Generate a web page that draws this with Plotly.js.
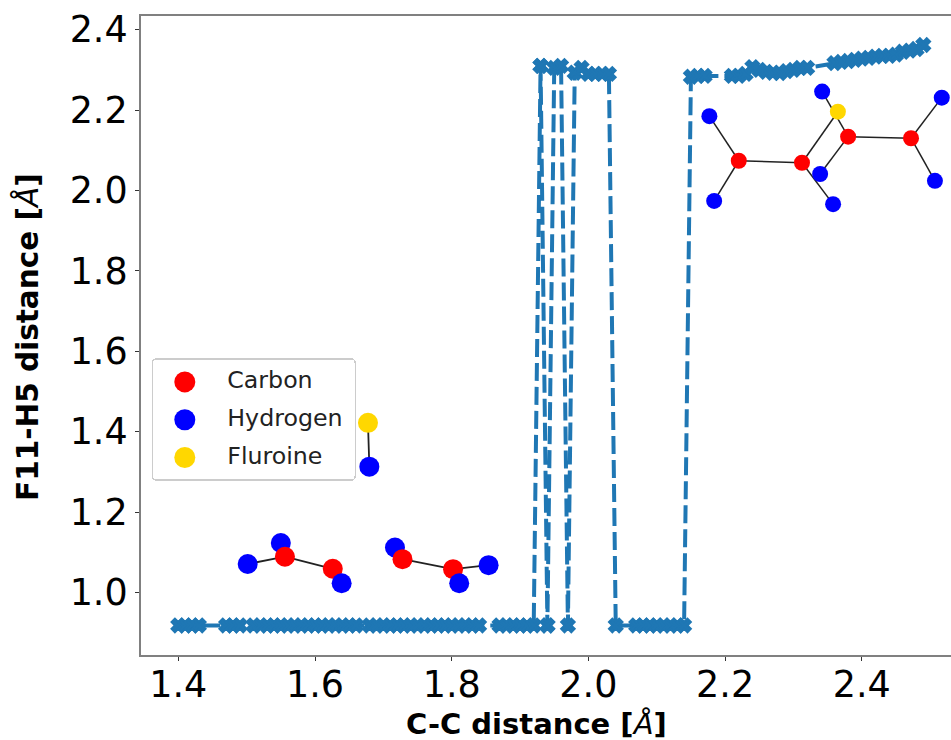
<!DOCTYPE html>
<html><head><meta charset="utf-8">
<script src="https://cdn.plot.ly/plotly-3.0.1.min.js"></script>
<style>html,body{margin:0;padding:0;background:#fff;overflow:hidden}#c{width:951px;height:740px}</style>
</head><body><div id="c"></div>
<script>
var scanX = [1.40,1.41,1.42,1.43,1.47,1.48,1.49,1.51,1.52,1.53,1.54,1.55,1.56,1.57,1.58,1.59,1.60,1.61,1.62,1.63,1.64,1.65,1.66,1.68,1.69,1.70,1.71,1.72,1.73,1.74,1.75,1.76,1.77,1.78,1.79,1.80,1.81,1.82,1.83,1.84,1.87,1.88,1.89,1.90,1.91,1.92,1.93,1.94,1.93,1.94,1.95,1.96,1.97,1.98,1.99,2.00,2.01,2.02,2.03,2.04,2.07,2.08,2.09,2.10,2.11,2.12,2.13,2.14,2.15,2.16,2.17,2.21,2.22,2.23,2.24,2.25,2.26,2.27,2.28,2.29,2.30,2.31,2.32,2.36,2.37,2.38,2.39,2.40,2.41,2.42,2.43,2.44,2.45,2.46,2.47,2.48,2.49];
var scanY = [0.918,0.918,0.918,0.918,0.918,0.918,0.918,0.918,0.918,0.918,0.918,0.918,0.918,0.918,0.918,0.918,0.918,0.918,0.918,0.918,0.918,0.918,0.918,0.918,0.918,0.918,0.918,0.918,0.918,0.918,0.918,0.918,0.918,0.918,0.918,0.918,0.918,0.918,0.918,0.918,0.918,0.918,0.918,0.918,0.918,0.918,2.31,0.918,2.31,0.918,2.305,2.31,0.918,2.293,2.305,2.29,2.29,2.29,2.29,0.918,0.918,0.918,0.918,0.918,0.918,0.918,0.918,0.918,2.283,2.285,2.285,2.285,2.285,2.29,2.307,2.30,2.295,2.293,2.292,2.297,2.30,2.305,2.305,2.317,2.32,2.322,2.325,2.328,2.33,2.333,2.335,2.335,2.338,2.345,2.348,2.352,2.362];

var lowBondX = [1.5015,1.556,null,1.550,1.556,null,1.556,1.626,null,1.626,1.639,null,
  1.717,1.728,null,1.728,1.802,null,1.802,1.854,null,1.802,1.811,null,1.6775,1.6795];
var lowBondY = [1.071,1.089,null,1.123,1.089,null,1.089,1.059,null,1.059,1.023,null,
  1.112,1.083,null,1.083,1.058,null,1.058,1.068,null,1.058,1.023,null,1.422,1.313];
var topBondX = [2.177,2.220,null,2.184,2.220,null,2.220,2.3125,null,2.3125,2.365,null,2.3125,2.358,null,
  2.342,2.380,null,2.339,2.380,null,2.380,2.472,null,2.472,2.517,null,2.472,2.507];
var topBondY = [2.185,2.074,null,1.974,2.074,null,2.074,2.069,null,2.069,2.196,null,2.069,1.966,null,
  2.246,2.134,null,2.041,2.134,null,2.134,2.130,null,2.130,2.231,null,2.130,2.024];

var hUnderX = [1.550,1.717];
var hUnderY = [1.123,1.112];
var carbonX = [1.556,1.626,1.728,1.802];
var carbonY = [1.089,1.059,1.083,1.058];
var hydrogenX = [1.5015,1.639,1.854,1.811,1.6795];
var hydrogenY = [1.071,1.023,1.068,1.023,1.313];
var fluorineX = [1.6775];
var fluorineY = [1.422];
var topCarbonX = [2.220,2.3125,2.380,2.472];
var topCarbonY = [2.074,2.069,2.134,2.130];
var topHydrogenX = [2.177,2.184,2.339,2.358,2.342,2.517,2.507];
var topHydrogenY = [2.185,1.974,2.041,1.966,2.246,2.231,2.024];
var topFluorineX = [2.365];
var topFluorineY = [2.196];

var legendNames = ["Carbon","Hydrogen","Fluroine"];
var xTicks = [1.4,1.6,1.8,2.0,2.2,2.4];
var yTicks = [1.0,1.2,1.4,1.6,1.8,2.0,2.2,2.4];

var atom = function(x,y,color,size,name,show,group){
  return {x:x,y:y,type:'scatter',mode:'markers',name:name,showlegend:show,legendgroup:group,
    marker:{color:color,size:size,symbol:'circle'},hoverinfo:'skip'};
};
var bond = function(x,y,w){
  return {x:x,y:y,type:'scatter',mode:'lines',showlegend:false,line:{color:'#222',width:w},hoverinfo:'skip'};
};
var traces = [
  {x:scanX,y:scanY,type:'scatter',mode:'lines+markers',showlegend:false,
   line:{color:'#1f77b4',width:4,dash:'18px,6px'},
   marker:{color:'#1f77b4',symbol:'x',size:12,line:{color:'#1f77b4',width:2}}},
  bond(lowBondX,lowBondY,1.8),
  bond(topBondX,topBondY,1.5),
  atom(hUnderX,hUnderY,'#0000ff',20,'Hydrogen under',false,'h'),
  atom(carbonX,carbonY,'#ff0000',20,legendNames[0],true,'c'),
  atom(hydrogenX,hydrogenY,'#0000ff',20,legendNames[1],true,'h'),
  atom(fluorineX,fluorineY,'#ffd700',20,legendNames[2],true,'f'),
  atom(topHydrogenX,topHydrogenY,'#0000ff',16,'Hydrogen top',false,'h'),
  atom(topCarbonX,topCarbonY,'#ff0000',16,'Carbon top',false,'c'),
  atom(topFluorineX,topFluorineY,'#ffd700',16,'Fluorine top',false,'f')
];
var L=141,T=16,R=958,B=655;
var px2x=function(p){return 1.4+(p-178.3)/683.5;};
var py2y=function(p){return 2.4-(p-29.7)/402;};
var font='"DejaVu Sans",sans-serif';
var layout={
  width:960,height:740,paper_bgcolor:'#fff',plot_bgcolor:'#fff',
  margin:{l:L,t:T,r:960-R,b:740-B,pad:0},
  font:{family:font,color:'#000'},
  xaxis:{range:[px2x(L),px2x(R)],tickvals:xTicks,ticktext:xTicks.map(function(v){return v.toFixed(1)}),
    showgrid:false,zeroline:false,showline:true,mirror:true,linecolor:'#808080',linewidth:2,
    ticks:'outside',ticklen:4,tickwidth:1,tickcolor:'#333',tickfont:{size:36.5,family:font},ticklabelstandoff:-8},
  yaxis:{range:[py2y(B),py2y(T)],tickvals:yTicks,ticktext:yTicks.map(function(v){return v.toFixed(1)}),
    showgrid:false,zeroline:false,showline:true,mirror:true,linecolor:'#808080',linewidth:2,
    ticks:'outside',ticklen:4,tickwidth:1,tickcolor:'#333',tickfont:{size:36.5,family:font}},
  legend:{x:(152.3-L)/(R-L),y:(B-360)/(B-T),xanchor:'left',yanchor:'top',bgcolor:'#fff',borderwidth:0,
    font:{size:23.7,family:font,color:'#222'},itemwidth:65,tracegroupgap:4,itemclick:false,itemdoubleclick:false},
  annotations:[
   {xref:'paper',yref:'paper',x:(536.5-L)/(R-L),y:(B-724)/(B-T),xanchor:'center',yanchor:'middle',
    showarrow:false,text:'<b>C-C distance [</b><i>Å</i><b>]</b>',font:{size:29,family:font,color:'#000'}},
   {xref:'paper',yref:'paper',x:(28-L)/(R-L),y:(B-337)/(B-T),xanchor:'center',yanchor:'middle',textangle:-90,
    showarrow:false,text:'<b>F11-H5 distance [</b><i>Å</i><b>]</b>',font:{size:29.5,family:font,color:'#000'}}]
};
Plotly.newPlot('c',traces,layout,{displayModeBar:false,responsive:false}).then(function(gd){
  var circle='M10.5,0A10.5,10.5 0 1,1 0,-10.5A10.5,10.5 0 0,1 10.5,0Z';
  gd.querySelectorAll('.legend .legendpoints path.scatterpts').forEach(function(p){
    p.setAttribute('d',circle);
    p.setAttribute('transform','translate(32.5,0)');
  });
  gd.querySelectorAll('.legend text.legendtext').forEach(function(t){
    t.setAttribute('transform','translate(0,-3)');
  });
  var bg=gd.querySelector('.legend rect.bg');
  if(bg){
    bg.setAttribute('x','0');bg.setAttribute('y','-1');
    bg.setAttribute('width','203');bg.setAttribute('height','121');
    bg.setAttribute('rx','4');bg.setAttribute('ry','4');
    bg.style.stroke='#ccc';bg.style.strokeWidth='1.5px';
  }
});
</script></body></html>
